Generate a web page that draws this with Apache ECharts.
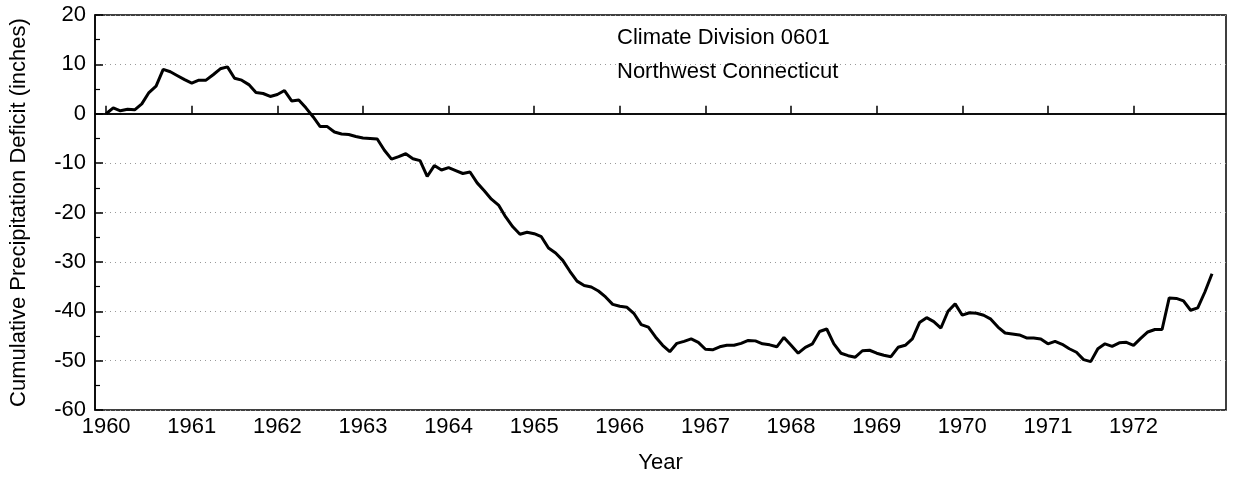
<!DOCTYPE html>
<html>
<head>
<meta charset="utf-8">
<script src="https://cdn.jsdelivr.net/npm/echarts@6/dist/echarts.min.js"></script>
<style>
html,body{margin:0;padding:0;background:#fff;}
#chart{width:1235px;height:479px;}
</style>
</head>
<body>
<div id="chart"></div>
<script>
// ---- data ----
const startYear = 1960;           // first month: January 1960, monthly steps
const deficit = [
  0, 1.2, 0.6, 0.9, 0.8, 2.0, 4.3, 5.6, 9.0, 8.5, 7.7, 6.9,
  6.2, 6.8, 6.8, 7.9, 9.1, 9.5, 7.2, 6.8, 5.9, 4.3, 4.1, 3.5,
  3.9, 4.7, 2.6, 2.8, 1.2, -0.6, -2.6, -2.6, -3.7, -4.1, -4.2, -4.6,
  -4.9, -5.0, -5.1, -7.4, -9.2, -8.7, -8.1, -9.1, -9.5, -12.7, -10.5, -11.4,
  -10.9, -11.5, -12.1, -11.8, -14.0, -15.6, -17.3, -18.5, -20.9, -22.9, -24.4, -24.0,
  -24.3, -24.9, -27.2, -28.2, -29.7, -31.9, -33.9, -34.8, -35.1, -35.9, -37.1, -38.6,
  -39.0, -39.2, -40.5, -42.7, -43.2, -45.2, -46.9, -48.2, -46.5, -46.1, -45.6, -46.3,
  -47.7, -47.8, -47.2, -46.9, -46.9, -46.5, -45.9, -46.0, -46.6, -46.8, -47.2, -45.3,
  -46.9, -48.5, -47.3, -46.6, -44.1, -43.6, -46.6, -48.5, -49.0, -49.3, -48.0, -47.9,
  -48.5, -48.9, -49.2, -47.3, -46.9, -45.6, -42.3, -41.3, -42.1, -43.4, -40.0, -38.5,
  -40.8, -40.3, -40.4, -40.8, -41.6, -43.2, -44.4, -44.6, -44.8, -45.4, -45.4, -45.6,
  -46.6, -46.1, -46.7, -47.6, -48.3, -49.8, -50.2, -47.6, -46.6, -47.1, -46.4, -46.3,
  -46.9, -45.5, -44.2, -43.7, -43.7, -37.3, -37.4, -37.9, -39.8, -39.3, -36.1, -32.4
];
const yearTicks = [1960, 1961, 1962, 1963, 1964, 1965, 1966, 1967, 1968, 1969, 1970, 1971, 1972];
const titleLines = ['Climate Division 0601', 'Northwest Connecticut'];
const xAxisName = 'Year';
const yAxisName = 'Cumulative Precipitation Deficit (inches)';

const points = deficit.map((v, i) => [startYear + i / 12, v]);

const FONT = '"Liberation Sans", Arial, Helvetica, sans-serif';
const chart = echarts.init(document.getElementById('chart'));
chart.setOption({
  animation: false,
  backgroundColor: '#fff',
  textStyle: { fontFamily: FONT, color: '#000' },
  title: {
    text: titleLines.join('\n'),
    left: 612, top: 16,
    textStyle: { fontFamily: FONT, fontSize: 22, fontWeight: 'normal', color: '#000', lineHeight: 34 }
  },
  grid: {
    left: 95, right: 9, top: 15, bottom: 69,
    show: true, borderColor: '#000', borderWidth: 1.5, backgroundColor: 'transparent'
  },
  xAxis: {
    type: 'value',
    min: 1959.87, max: 1973.08,
    name: xAxisName, nameLocation: 'middle', nameGap: 42,
    nameTextStyle: { fontFamily: FONT, fontSize: 22, color: '#000' },
    axisLine: { show: true, lineStyle: { color: '#000', width: 1.5 } },
    axisTick: { show: true, inside: true, length: 8, customValues: yearTicks, lineStyle: { color: '#000', width: 1.5 } },
    axisLabel: { customValues: yearTicks, margin: 6, fontFamily: FONT, fontSize: 22, color: '#000',
      formatter: v => String(Math.round(v)) },
    splitLine: { show: false }
  },
  yAxis: {
    type: 'value',
    min: -60, max: 20, interval: 10,
    name: yAxisName, nameLocation: 'middle', nameGap: 65, nameRotate: 90,
    nameTextStyle: { fontFamily: FONT, fontSize: 22, color: '#000' },
    axisLine: { show: true, lineStyle: { color: '#000', width: 1.5 } },
    axisTick: { show: true, inside: true, length: 8, lineStyle: { color: '#000', width: 1.5 } },
    minorTick: { show: true, splitNumber: 2, length: 5, lineStyle: { color: '#000', width: 1.2 } },
    axisLabel: { margin: 9, fontFamily: FONT, fontSize: 22, color: '#000' },
    splitLine: { show: true, lineStyle: { color: '#999', width: 1, type: [1, 4] } }
  },
  series: [{
    type: 'line',
    data: points,
    showSymbol: false,
    symbol: 'none',
    lineStyle: { color: '#000', width: 3 },
    markLine: {
      silent: true, symbol: 'none', label: { show: false },
      lineStyle: { color: '#000', width: 1.5, type: 'solid' },
      data: [{ yAxis: 0 }]
    }
  }]
});
</script>
</body>
</html>
